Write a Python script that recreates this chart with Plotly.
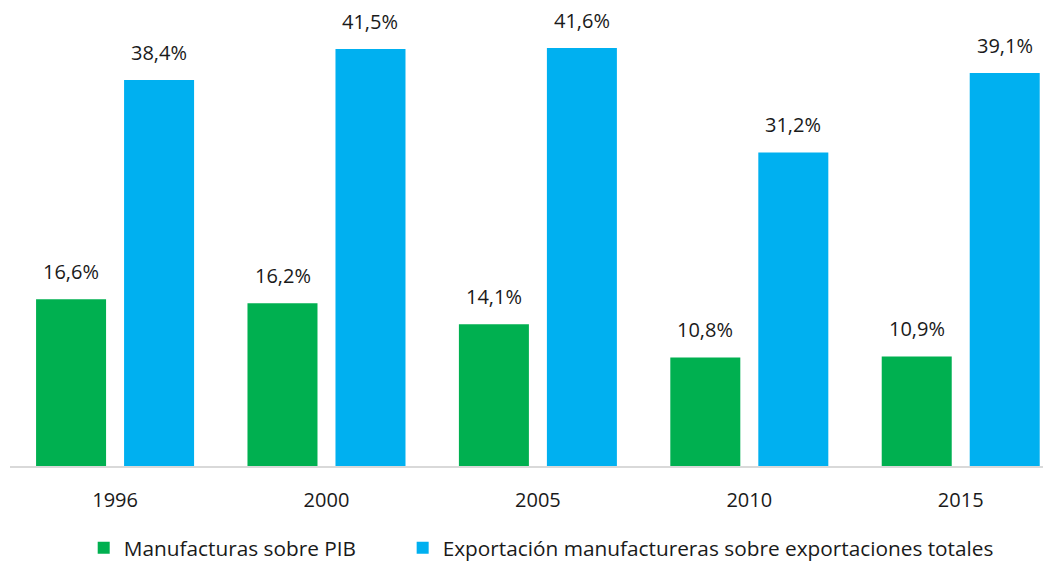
import plotly.graph_objects as go

years = ["1996", "2000", "2005", "2010", "2015"]
manufacturas_pib = [16.6, 16.2, 14.1, 10.8, 10.9]
export_manuf = [38.4, 41.5, 41.6, 31.2, 39.1]

series = [
    ("Manufacturas sobre PIB", manufacturas_pib, "#00B050", -0.208, "legend"),
    ("Exportación manufactureras sobre exportaciones totales", export_manuf, "#00B0F0", 0.208, "legend2"),
]

fig = go.Figure()
for name, vals, color, off, leg in series:
    fig.add_trace(go.Bar(x=years, y=vals, name=name, legend=leg,
                         marker=dict(color=color, line_width=0)))
    for i, v in enumerate(vals):
        fig.add_annotation(
            x=i + off, y=v, text=f"{v:.1f}%".replace(".", ","),
            showarrow=False, yanchor="bottom", yshift=12,
            font=dict(size=20, color="#1a1a1a"),
        )

legend_style = dict(orientation="h", xanchor="left", y=-0.135, yanchor="top",
                    font=dict(size=20.8), itemwidth=30)

# page body keeps an 8px default margin, so the figure is sized to fit inside the window
fig.update_layout(
    width=1043, height=553,
    margin=dict(l=2, r=0, t=0, b=95, autoexpand=False),
    plot_bgcolor="white", paper_bgcolor="white",
    font=dict(family="Open Sans, sans-serif", size=20, color="#1a1a1a"),
    barmode="group", bargap=0.1675, bargroupgap=0.2045,
    showlegend=True,
    legend=dict(x=0.0708, **legend_style),
    legend2=dict(x=0.3772, **legend_style),
    xaxis=dict(type="category", range=[-0.497, 4.427], showline=True, linecolor="#d9d9d9",
               linewidth=2, ticks="", ticklabelstandoff=15, showgrid=False, automargin=False),
    yaxis=dict(range=[0, 45.57], visible=False, showgrid=False, automargin=False),
)

fig.write_html("out.html")
